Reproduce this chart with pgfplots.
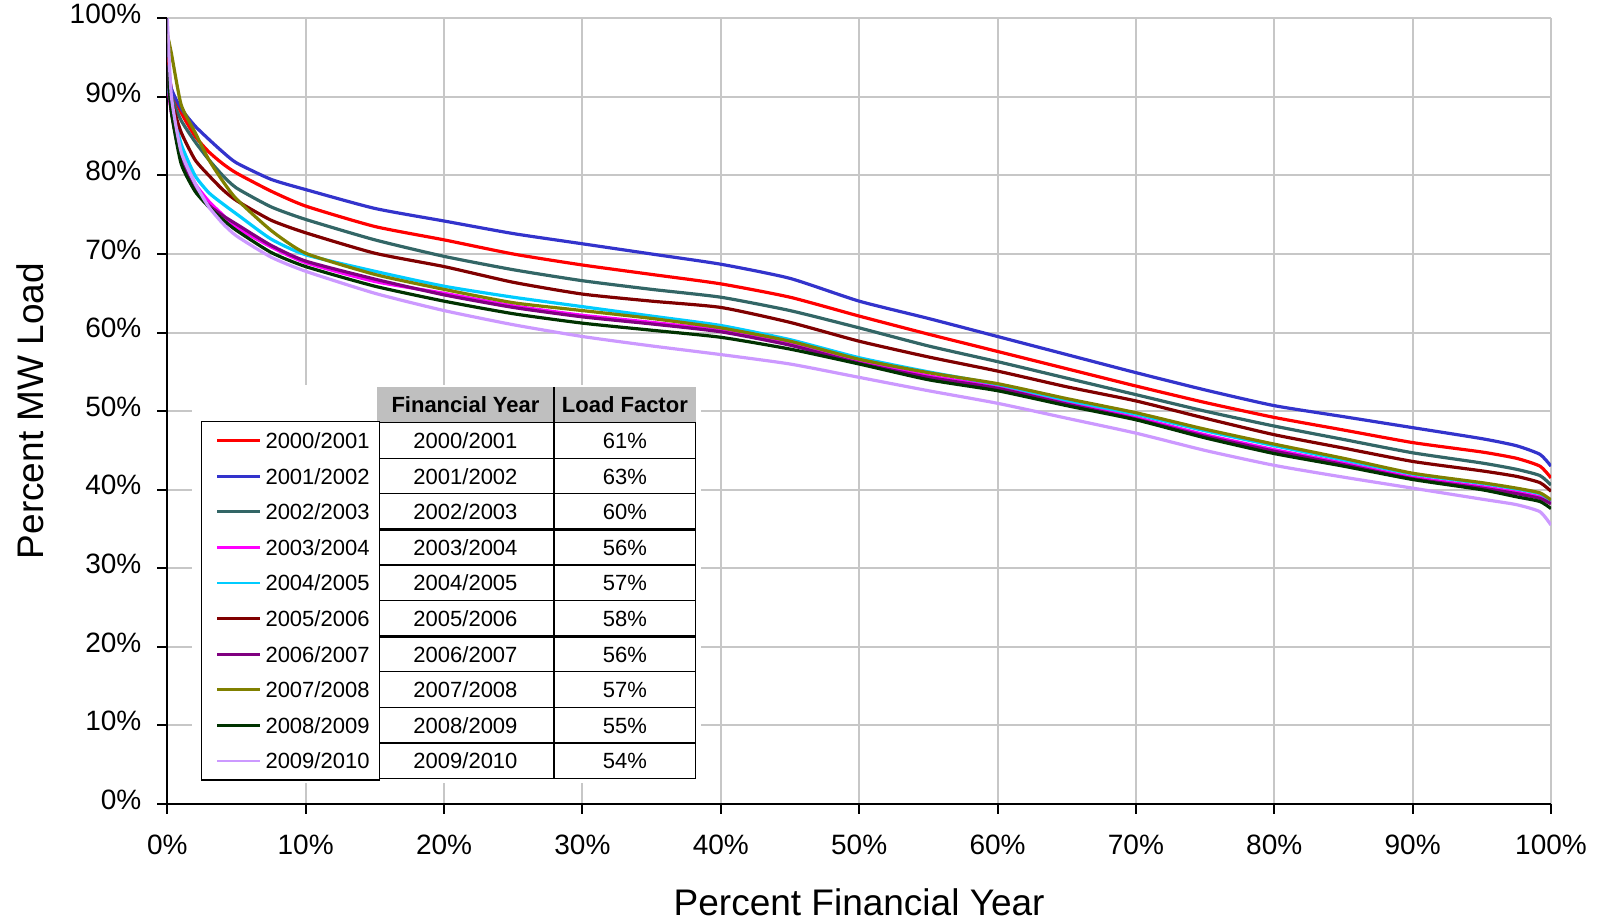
\documentclass[border=0pt]{standalone}
\usepackage{fontspec}
\setmainfont{Liberation Sans}
\usepackage{pgfplots}
\usepackage{pgfplotstable}
\pgfplotsset{compat=1.18}

\definecolor{cA}{RGB}{255,0,0}
\definecolor{cB}{RGB}{51,51,204}
\definecolor{cC}{RGB}{51,102,102}
\definecolor{cD}{RGB}{255,0,255}
\definecolor{cE}{RGB}{0,204,255}
\definecolor{cF}{RGB}{128,0,0}
\definecolor{cG}{RGB}{128,0,128}
\definecolor{cH}{RGB}{128,128,0}
\definecolor{cI}{RGB}{0,51,0}
\definecolor{cJ}{RGB}{204,153,255}

% load duration curves, percent of year vs percent of peak MW
\pgfplotstableread{
x     a     b     c     d     e     f     g     h     i     j
0     95.0  94.0  93.0  92.0  92.0  93.0  94.0  98.0  94.0  100.0
0.3   91.0  91.0  90.0  88.0  89.0  89.5  88.0  95.5  88.0  90.0
1     88.0  88.5  87.0  83.0  84.0  85.5  82.0  89.0  81.5  83.0
2     85.0  86.3  84.3  79.0  80.0  82.0  78.2  85.5  78.0  79.0
3     83.0  84.6  82.0  76.7  77.8  80.0  76.2  82.0  76.0  76.0
4     81.5  83.0  80.0  75.0  76.4  78.2  74.9  79.3  74.4  73.9
5     80.3  81.6  78.4  73.4  75.1  76.8  73.8  77.0  73.0  72.3
7.5   78.0  79.5  76.0  70.9  71.9  74.3  71.1  73.0  70.2  69.6
10    76.1  78.2  74.4  68.9  69.9  72.7  69.1  70.1  68.4  67.8
15    73.5  75.8  71.8  66.5  67.8  70.1  66.8  67.4  65.9  65.0
20    71.8  74.2  69.7  65.0  65.9  68.4  64.8  65.5  64.0  62.8
25    70.0  72.6  68.0  63.4  64.5  66.4  63.2  63.8  62.4  61.0
30    68.6  71.3  66.6  62.2  63.3  64.9  62.0  62.8  61.2  59.5
35    67.4  70.0  65.5  61.3  62.1  64.0  61.1  61.8  60.3  58.3
40    66.2  68.7  64.5  60.3  60.9  63.2  60.1  60.6  59.4  57.2
45    64.5  66.9  62.8  58.6  59.1  61.3  58.4  58.9  57.9  56.0
50    62.1  64.0  60.6  56.3  56.8  58.9  56.1  56.6  56.0  54.3
55    59.8  61.8  58.3  54.5  55.0  56.9  54.3  54.9  54.0  52.6
60    57.6  59.5  56.3  53.1  53.4  55.1  52.9  53.5  52.6  51.0
65    55.4  57.2  54.2  51.1  51.4  53.1  50.9  51.6  50.7  49.1
70    53.2  54.9  52.1  49.2  49.6  51.3  49.0  49.8  48.9  47.2
75    51.1  52.7  50.0  47.0  47.5  49.1  46.8  47.7  46.6  45.0
80    49.2  50.7  48.1  45.1  45.6  47.0  44.9  45.8  44.6  43.1
85    47.6  49.3  46.4  43.4  43.8  45.3  43.2  44.0  43.0  41.6
90    46.0  47.9  44.7  41.6  42.0  43.6  41.4  42.1  41.3  40.2
95    44.8  46.5  43.4  40.4  40.8  42.4  40.2  40.9  40.0  38.8
97.5  44.0  45.6  42.6  39.7  40.1  41.7  39.5  40.2  39.1  38.1
99.2  43.0  44.5  41.8  39.1  39.5  40.9  38.9  39.6  38.5  37.2
100   41.5  43.0  40.6  38.4  38.6  39.8  38.2  38.7  37.6  35.5
}\ldc

\begin{document}
\begin{tikzpicture}
\useasboundingbox (-83.65pt,-58.5pt) rectangle (717.35pt,402pt);
\begin{axis}[
    scale only axis, width=691.85pt, height=392.85pt,
    xmin=0, xmax=100, ymin=0, ymax=100, enlargelimits=false,
    axis lines=left, axis line style={-, line width=1pt, black},
    xtick={0,10,...,100}, ytick={0,10,...,100},
    /pgf/number format/assume math mode=true,
    xticklabel={\pgfmathprintnumber{\tick}\%},
    yticklabel={\pgfmathprintnumber{\tick}\%},
    tick align=outside, major tick length=5pt,
    tick style={black, line width=1pt},
    tick label style={font=\fontsize{14}{16}\selectfont},
    xticklabel style={anchor=base, inner sep=0pt, yshift=-20.5pt},
    yticklabel style={anchor=mid east, inner sep=0pt, xshift=-7.8pt},
    grid=major, major grid style={black!22, line width=1pt},
    xlabel={Percent Financial Year}, ylabel={Percent MW Load},
    label style={font=\fontsize{18.5}{22}\selectfont},
    xlabel style={at={(axis description cs:0.5,-0.1413)}, anchor=base},
    ylabel style={at={(axis description cs:-0.0898,0.5)}, anchor=base},
    every axis plot/.append style={line width=1.6pt, no markers, smooth, tension=0.35},
    legend cell align=left,
    legend image code/.code={\path (0pt,0pt); \draw[#1, line width=1.4pt] (2pt,0pt) -- (23.5pt,0pt);},
    legend style={at={(axis cs:2.43,48.75)}, anchor=north west,
        draw=black, line width=0.6pt, fill=white,
        font=\fontsize{11}{13}\selectfont,
        inner xsep=5pt, inner ysep=5.5pt,
        row sep=9.8pt, /tikz/column sep=2pt,
        nodes={inner sep=0pt, text height=8pt, text depth=0pt}},
]
\addplot[cA] table[x=x, y=a] {\ldc}; \addlegendentry{2000/2001}
\addplot[cB] table[x=x, y=b] {\ldc}; \addlegendentry{2001/2002}
\addplot[cC] table[x=x, y=c] {\ldc}; \addlegendentry{2002/2003}
\addplot[cD] table[x=x, y=d] {\ldc}; \addlegendentry{2003/2004}
\addplot[cE] table[x=x, y=e] {\ldc}; \addlegendentry{2004/2005}
\addplot[cF] table[x=x, y=f] {\ldc}; \addlegendentry{2005/2006}
\addplot[cG] table[x=x, y=g] {\ldc}; \addlegendentry{2006/2007}
\addplot[cH] table[x=x, y=h] {\ldc}; \addlegendentry{2007/2008}
\addplot[cI] table[x=x, y=i] {\ldc}; \addlegendentry{2008/2009}
\addplot[cJ] table[x=x, y=j] {\ldc}; \addlegendentry{2009/2010}

% white panel behind legend and load factor table
\fill[white] (axis cs:1.81,2.7) rectangle (axis cs:38.56,53.3);
\fill[black!25] (axis cs:15.16,48.53) rectangle (axis cs:38.2,53.08);
\draw[black, line width=0.6pt] (axis cs:15.16,48.53) rectangle (axis cs:38.2,3.23);
\draw[black, line width=0.6pt] (axis cs:27.94,53.08) -- (axis cs:27.94,3.23);
\pgfplotsinvokeforeach{1,2,4,5,7,8,9}{
  \draw[black, line width=0.6pt] (axis cs:15.16,{48.53-#1*4.53}) -- (axis cs:38.2,{48.53-#1*4.53});
}
\pgfplotsinvokeforeach{3,6}{
  \draw[black, line width=1.5pt] (axis cs:15.16,{48.53-#1*4.53}) -- (axis cs:38.2,{48.53-#1*4.53});
}
\begin{scope}[every node/.style={inner sep=0pt, text height=8pt, text depth=0pt, font=\fontsize{11}{13}\selectfont}]
\node[font=\fontsize{11}{13}\selectfont\bfseries] at (axis cs:21.55,50.8) {Financial Year};
\node[font=\fontsize{11}{13}\selectfont\bfseries] at (axis cs:33.07,50.8) {Load Factor};
\node at (axis cs:21.55,46.265) {2000/2001}; \node at (axis cs:33.07,46.265) {61\%};
\node at (axis cs:21.55,41.735) {2001/2002}; \node at (axis cs:33.07,41.735) {63\%};
\node at (axis cs:21.55,37.205) {2002/2003}; \node at (axis cs:33.07,37.205) {60\%};
\node at (axis cs:21.55,32.675) {2003/2004}; \node at (axis cs:33.07,32.675) {56\%};
\node at (axis cs:21.55,28.145) {2004/2005}; \node at (axis cs:33.07,28.145) {57\%};
\node at (axis cs:21.55,23.615) {2005/2006}; \node at (axis cs:33.07,23.615) {58\%};
\node at (axis cs:21.55,19.085) {2006/2007}; \node at (axis cs:33.07,19.085) {56\%};
\node at (axis cs:21.55,14.555) {2007/2008}; \node at (axis cs:33.07,14.555) {57\%};
\node at (axis cs:21.55,10.025) {2008/2009}; \node at (axis cs:33.07,10.025) {55\%};
\node at (axis cs:21.55,5.495) {2009/2010}; \node at (axis cs:33.07,5.495) {54\%};
\end{scope}
\end{axis}
\end{tikzpicture}
\end{document}
